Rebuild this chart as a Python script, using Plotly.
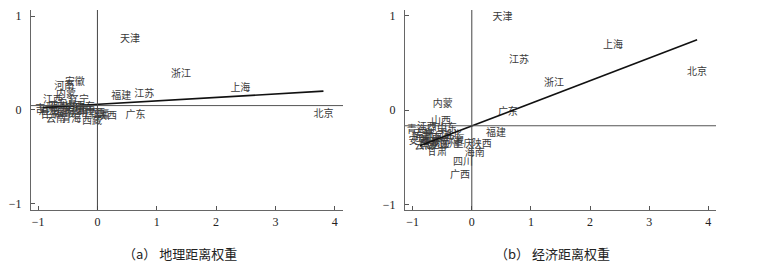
import plotly.graph_objects as go

# ---------- data ----------
names_a = ["天津", "浙江", "江苏", "福建", "上海", "北京", "广东", "河南", "安徽", "内蒙",
           "江西", "辽宁", "云南", "青海", "西藏", "陕西", "新疆", "吉林", "河北", "山西",
           "黑龙江", "山东", "湖北", "湖南", "广西", "海南", "重庆", "四川", "贵州", "甘肃", "宁夏"]
x_a = [0.55, 1.41, 0.79, 0.40, 2.41, 3.81, 0.64, -0.56, -0.38, -0.53,
       -0.75, -0.31, -0.70, -0.44, -0.09, 0.16, 0.03, -0.88, -0.63, -0.38,
       -0.74, -0.21, -0.46, -0.26, -0.04, -0.56, -0.16, -0.66, -0.34, -0.80, -0.51]
y_a = [0.75, 0.38, 0.16, 0.14, 0.23, -0.05, -0.06, 0.25, 0.29, 0.16,
       0.10, 0.10, -0.10, -0.10, -0.12, -0.07, -0.06, 0.00, 0.03, 0.04,
       -0.02, 0.03, 0.00, -0.02, -0.04, -0.04, -0.01, 0.04, -0.05, -0.06, 0.06]

names_b = ["天津", "江苏", "上海", "浙江", "北京", "广东", "内蒙", "福建", "山西", "陕西",
           "海南", "四川", "广西", "甘肃", "湖北", "重庆", "贵州", "江西", "山东", "吉林",
           "辽宁", "河北", "河南", "安徽", "湖南", "云南", "青海", "西藏", "新疆", "黑龙江", "宁夏"]
x_b = [0.52, 0.80, 2.39, 1.39, 3.81, 0.61, -0.49, 0.41, -0.52, 0.17,
       0.05, -0.15, -0.20, -0.59, -0.34, -0.14, -0.39, -0.76, -0.42, -0.81,
       -0.59, -0.47, -0.68, -0.90, -0.54, -0.80, -0.93, -0.71, -0.85, -0.63, -0.29]
y_b = [0.98, 0.52, 0.68, 0.28, 0.40, -0.03, 0.06, -0.25, -0.12, -0.37,
       -0.46, -0.56, -0.69, -0.45, -0.27, -0.37, -0.37, -0.19, -0.20, -0.26,
       -0.22, -0.28, -0.30, -0.33, -0.35, -0.39, -0.22, -0.34, -0.29, -0.38, -0.32]

# fitted lines and mean lines
fit_a_x = [-0.92, 3.81]
fit_a_y = [0.025, 0.20]
fit_b_x = [-0.88, 3.81]
fit_b_y = [-0.38, 0.745]
hline_a = 0.046
hline_b = -0.167
vline = 0.0

x_ticks = [-1, 0, 1, 2, 3, 4]
y_ticks = [-1, 0, 1]
captions = ["（a） 地理距离权重", "（b） 经济距离权重"]

# ---------- figure ----------
W, H = 773, 263
fig = go.Figure()

CJK = "Noto Sans CJK SC"
SERIF = "Liberation Serif"

panels = [
    (names_a, x_a, y_a, fit_a_x, fit_a_y, hline_a, "x", "y"),
    (names_b, x_b, y_b, fit_b_x, fit_b_y, hline_b, "x2", "y2"),
]
for names, xs, ys, fx, fy, hl, xa, ya in panels:
    fig.add_trace(go.Scatter(x=xs, y=ys, mode="text", text=names,
                             textfont=dict(family=CJK, size=10, color="#3a3a3a"),
                             textposition="middle center", xaxis=xa, yaxis=ya,
                             showlegend=False, hoverinfo="text"))
    fig.add_trace(go.Scatter(x=fx, y=fy, mode="lines",
                             line=dict(color="#111111", width=1.6),
                             xaxis=xa, yaxis=ya, showlegend=False, hoverinfo="skip"))
    fig.add_shape(type="line", xref=xa + " domain", yref=ya, x0=0, x1=1, y0=hl, y1=hl,
                  line=dict(color="#555555", width=1))
    fig.add_shape(type="line", xref=xa, yref=ya + " domain", x0=vline, x1=vline, y0=0, y1=1,
                  line=dict(color="#444444", width=1))

dom_y = [1 - 210 / H, 1 - 10 / H]
axis_common = dict(showgrid=False, zeroline=False, showline=True, linecolor="#666666",
                   linewidth=1.3, ticks="inside", ticklen=4, tickcolor="#555555",
                   automargin=False,
                   tickfont=dict(family=SERIF, size=12, color="#222222"))
fig.update_layout(
    width=W, height=H, margin=dict(l=0, r=0, t=0, b=0),
    paper_bgcolor="white", plot_bgcolor="white",
    xaxis=dict(domain=[31 / W, 343 / W], range=[-1.12, 4.14], tickvals=x_ticks,
               anchor="y", **axis_common),
    yaxis=dict(domain=dom_y, range=[-1.066, 1.064], tickvals=y_ticks,
               anchor="x", ticklabelstandoff=6, **axis_common),
    xaxis2=dict(domain=[405 / W, 716 / W], range=[-1.13, 4.13], tickvals=x_ticks,
                anchor="y2", **axis_common),
    yaxis2=dict(domain=dom_y, range=[-1.06, 1.06], tickvals=y_ticks,
                anchor="x2", ticklabelstandoff=6, **axis_common),
)

for cx, cap in [(180 / W, captions[0]), (552 / W, captions[1])]:
    fig.add_annotation(x=cx, y=1 - 253 / H, xref="paper", yref="paper", text=cap,
                       showarrow=False, xanchor="center", yanchor="middle",
                       font=dict(family=CJK, size=13, color="#222222"))

fig.write_html("out.html", config={"displayModeBar": False},
               post_script="document.body.style.margin='0px';document.body.style.overflow='hidden';")
